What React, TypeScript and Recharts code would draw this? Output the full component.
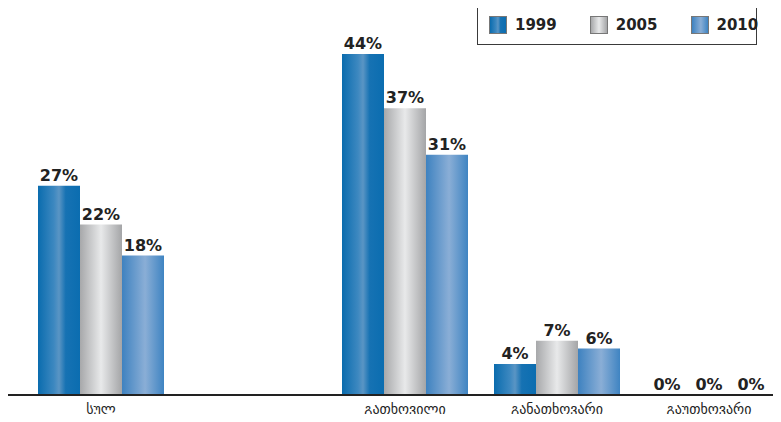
import { BarChart, Bar, XAxis, YAxis, LabelList, Legend } from "recharts";

const categories = ["სულ", "", "გათხოვილი", "განათხოვარი", "გაუთხოვარი"];
const v1999 = [27, null, 44, 4, 0];
const v2005 = [22, null, 37, 7, 0];
const v2010 = [18, null, 31, 6, 0];
const seriesNames = ["1999", "2005", "2010"];

const data = categories.map((name, i) => ({
  name,
  y1999: v1999[i],
  y2005: v2005[i],
  y2010: v2010[i],
}));

const swatches = [
  "linear-gradient(90deg,#0a6cae 0%,#3d88c0 38%,#5a95c4 50%,#1672b3 66%,#0b6db0 100%)",
  "linear-gradient(90deg,#a7a8aa 0%,#e8e9ea 50%,#a4a5a7 100%)",
  "linear-gradient(90deg,#3e82c0 0%,#8aaed6 55%,#3f84c2 100%)",
];

const fmt = (v: any) => (v === null || v === undefined ? "" : `${v}%`);

function LegendBox() {
  return (
    <div
      style={{
        width: 280,
        height: 40,
        border: "1.5px solid #3a3a3a",
        display: "flex",
        alignItems: "center",
        boxSizing: "border-box",
        fontFamily: "'DejaVu Sans', sans-serif",
        fontWeight: "bold",
        fontSize: 15,
        color: "#222",
      }}
    >
      {seriesNames.map((n, i) => (
        <div
          key={n}
          style={{ display: "flex", alignItems: "center", marginLeft: i === 0 ? 11 : 33 }}
        >
          <div
            style={{
              width: 18,
              height: 18,
              background: swatches[i],
              border: "1px solid #777",
              boxSizing: "border-box",
              marginRight: 8,
            }}
          />
          <span>{n}</span>
        </div>
      ))}
    </div>
  );
}

const labelStyle = {
  fontFamily: "'DejaVu Sans', sans-serif",
  fontWeight: "bold" as const,
  fontSize: 16,
  fill: "#222",
};

export default function App() {
  return (
    <div
      style={{
        margin: -8,
        width: 781,
        height: 422,
        overflow: "hidden",
        position: "relative",
        background: "#fff",
      }}
    >
      <BarChart
        width={800}
        height={422}
        data={data}
        margin={{ top: 54, right: 0, left: 8, bottom: 0 }}
        barGap={0}
        barSize={42}
      >
        <defs>
          <linearGradient id="g1999" x1="0" y1="0" x2="1" y2="0">
            <stop offset="0%" stopColor="#0a6cae" />
            <stop offset="38%" stopColor="#3d88c0" />
            <stop offset="50%" stopColor="#5a95c4" />
            <stop offset="66%" stopColor="#1672b3" />
            <stop offset="100%" stopColor="#0b6db0" />
          </linearGradient>
          <linearGradient id="g2005" x1="0" y1="0" x2="1" y2="0">
            <stop offset="0%" stopColor="#a7a8aa" />
            <stop offset="50%" stopColor="#e8e9ea" />
            <stop offset="100%" stopColor="#a4a5a7" />
          </linearGradient>
          <linearGradient id="g2010" x1="0" y1="0" x2="1" y2="0">
            <stop offset="0%" stopColor="#3e82c0" />
            <stop offset="55%" stopColor="#8aaed6" />
            <stop offset="100%" stopColor="#3f84c2" />
          </linearGradient>
        </defs>
        <XAxis
          dataKey="name"
          height={27}
          padding={{ left: 17, right: 15 }}
          tickLine={false}
          tickMargin={3}
          axisLine={{ stroke: "#222", strokeWidth: 2 }}
          tick={{
            fill: "#222",
            fontSize: 14,
            fontFamily: "'DejaVu Sans', sans-serif",
          }}
          interval={0}
        />
        <YAxis hide domain={[0, 44]} />
        <Legend
          layout="vertical"
          align="center"
          verticalAlign="middle"
          content={() => <LegendBox />}
          wrapperStyle={{ position: "absolute", left: 477, top: 5, width: 280, height: 40 }}
        />
        <Bar dataKey="y1999" name="1999" fill="url(#g1999)" minPointSize={0.1} isAnimationActive={false}>
          <LabelList dataKey="y1999" position="top" offset={5} formatter={fmt} style={labelStyle} />
        </Bar>
        <Bar dataKey="y2005" name="2005" fill="url(#g2005)" minPointSize={0.1} isAnimationActive={false}>
          <LabelList dataKey="y2005" position="top" offset={5} formatter={fmt} style={labelStyle} />
        </Bar>
        <Bar dataKey="y2010" name="2010" fill="url(#g2010)" minPointSize={0.1} isAnimationActive={false}>
          <LabelList dataKey="y2010" position="top" offset={5} formatter={fmt} style={labelStyle} />
        </Bar>
      </BarChart>
    </div>
  );
}
